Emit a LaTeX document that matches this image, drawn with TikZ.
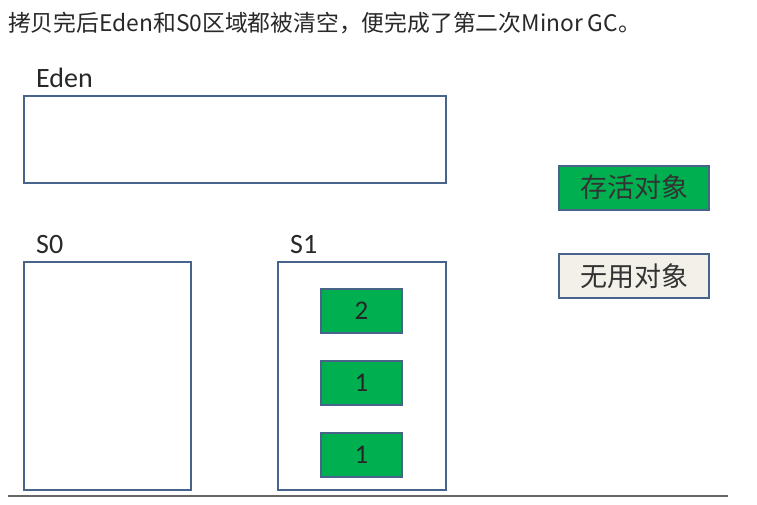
\documentclass[tikz,border=0pt]{standalone}
\usepackage{fontspec}
\setmainfont{Carlito}
\newfontfamily\cjk{Noto Sans CJK SC}
\usetikzlibrary{positioning}
\definecolor{frameblue}{RGB}{72,100,138}
\definecolor{livegreen}{RGB}{0,176,80}
\definecolor{deadgray}{RGB}{242,240,232}
\definecolor{ink}{RGB}{40,40,40}
\tikzset{
	region/.style={draw=frameblue,line width=2pt,fill=white,inner sep=0pt},
	obj/.style={draw=frameblue,line width=1.8pt,fill=livegreen,inner sep=0pt,
		minimum width=81pt,minimum height=44pt,font=\fontsize{27}{30}\selectfont,text=black!85},
	legend/.style={draw=frameblue,line width=2pt,inner sep=0pt,
		minimum width=150pt,minimum height=44pt,font=\cjk\fontsize{27}{30}\selectfont,text=black!80},
	tag/.style={anchor=south west,inner sep=0pt,font=\fontsize{28}{32}\selectfont,text=ink},
}
\begin{document}
\begin{tikzpicture}[x=1pt,y=-1pt]
	\useasboundingbox (0,0) rectangle (757,504);
	% caption
	\node[anchor=west,inner sep=0pt,font=\cjk\fontsize{22.8}{26}\selectfont,text=ink] (caption) at (8,23)
	{拷贝完后Eden和S0区域都被清空，便完成了第二次Minor GC。};
	% regions
	\node[region,minimum width=422pt,minimum height=87pt] (eden) at (235,139.5) {};
	\node[region,minimum width=167pt,minimum height=228pt] (szero) at (107.5,376) {};
	\node[region,minimum width=168pt,minimum height=228pt] (sone) at (362,376) {};
	\node[tag] (edentag) at (36,88) {Eden};
	\node[tag] (szerotag) at (36,254) {S0};
	\node[tag] (sonetag) at (290,254) {S1};
	% objects in S1
	\node[obj] (objtwo) at (361.5,311) {2};
	\node[obj,below=26pt of objtwo] (objone) {1};
	\node[obj,below=26pt of objone] (objthree) {1};
	% legend
	\node[legend,fill=livegreen] (alive) at (634,187.5) {存活对象};
	\node[legend,fill=deadgray] (dead) at (634,276) {无用对象};
	% bottom rule
	\coordinate (ruleL) at (8,496);
	\coordinate (ruleR) at (728,496);
	\draw[line width=1.5pt,draw=black!60] (ruleL) -- (ruleR);
\end{tikzpicture}
\end{document}
